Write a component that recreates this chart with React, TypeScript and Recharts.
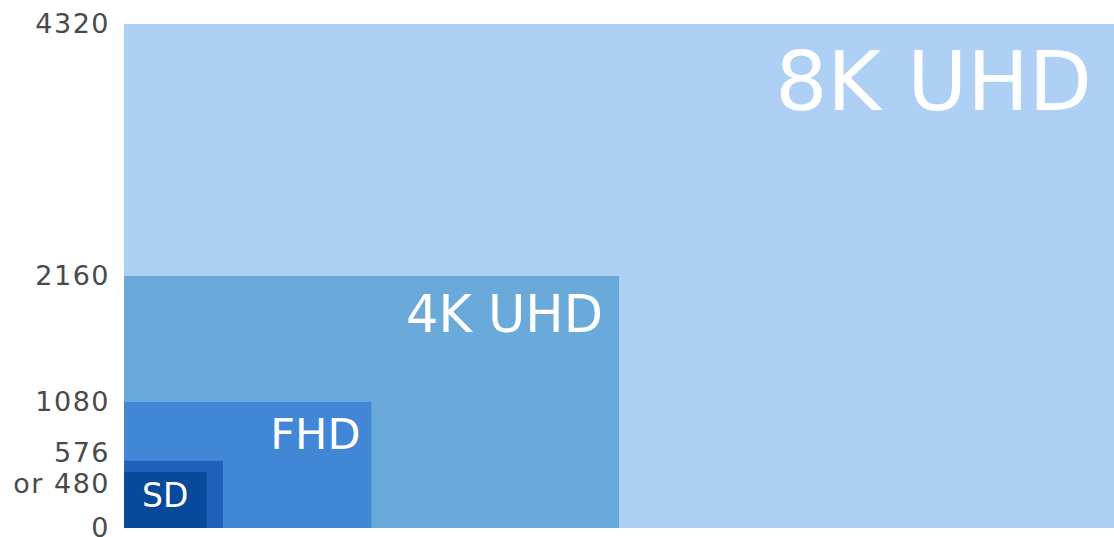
import { ComposedChart, XAxis, YAxis, ReferenceArea } from 'recharts'

// resolution formats, drawn largest first so smaller ones sit on top
const formats = ['8K UHD', '4K UHD', 'FHD', 'SD 576', 'SD 480']
const widths = [7680, 3840, 1920, 768, 640]
const heights = [4320, 2160, 1080, 576, 480]
const labels = ['8K UHD', '4K UHD', 'FHD', '', 'SD']

const yTicks = [0, 480, 576, 1080, 2160, 4320]
const yTickLabels = ['0', 'or 480', '576', '1080', '2160', '4320']

const FONT = '"DejaVu Sans", Verdana, sans-serif'

// look of each box and its caption
const STYLE: Record<string, { fill: string; size: number; pad: number; base: number; center?: boolean }> = {
  '8K UHD': { fill: '#aed0f5', size: 82, pad: 22, base: 86 },
  '4K UHD': { fill: '#6aaadb', size: 51, pad: 16, base: 56 },
  FHD: { fill: '#4187d5', size: 43, pad: 11, base: 47 },
  'SD 576': { fill: '#215fbd', size: 0, pad: 0, base: 0 },
  'SD 480': { fill: '#074a9a', size: 33, pad: 0, base: 35, center: true },
}

// the 576 / 480 labels are nudged apart so they don't collide
const TICK_SHIFT: Record<number, number> = { 576: -8, 480: 12 }

function YTick(props: any) {
  const { x, y, payload } = props
  const i = yTicks.indexOf(payload.value)
  return (
    <text
      x={x}
      y={y + (TICK_SHIFT[payload.value] || 0)}
      dy={9}
      textAnchor="end"
      fill="#4a4a4a"
      fontSize={27}
      fontFamily={FONT}
      letterSpacing={1.5}
    >
      {yTickLabels[i]}
    </text>
  )
}

function areaShape(name: string, label: string) {
  const s = STYLE[name]
  return (props: any) => {
    const { x, y, width, height } = props
    return (
      <g>
        <rect x={x} y={y} width={width} height={height} fill={s.fill} />
        {label && (
          <text
            x={s.center ? x + width / 2 : x + width - s.pad}
            y={y + s.base}
            textAnchor={s.center ? 'middle' : 'end'}
            fill="#ffffff"
            fontSize={s.size}
            fontFamily={FONT}
          >
            {label}
          </text>
        )}
      </g>
    )
  }
}

export default function App() {
  return (
    <div style={{ position: 'absolute', left: 0, top: 0, background: '#fff' }}>
      <ComposedChart
        width={1114}
        height={537}
        data={[]}
        margin={{ top: 24, right: 0, bottom: 9, left: 0 }}
      >
        <XAxis type="number" dataKey="x" domain={[0, 7680]} hide />
        <YAxis
          type="number"
          domain={[0, 4320]}
          ticks={yTicks}
          interval={0}
          width={124}
          axisLine={false}
          tickLine={false}
          tickSize={0}
          tickMargin={14}
          tick={<YTick />}
        />
        {formats.map((name, i) => (
          <ReferenceArea
            key={name}
            x1={0}
            x2={widths[i]}
            y1={0}
            y2={heights[i]}
            ifOverflow="extendDomain"
            shape={areaShape(name, labels[i])}
          />
        ))}
      </ComposedChart>
    </div>
  )
}
